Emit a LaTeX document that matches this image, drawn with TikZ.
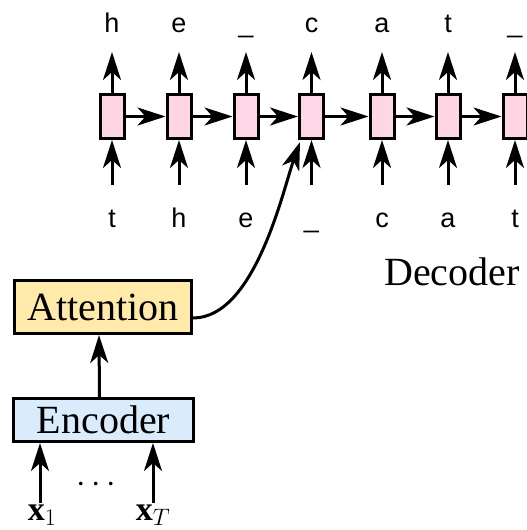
\RequirePackage{fix-cm}
\documentclass[tikz,border=0pt]{standalone}
\usepackage{fontspec}
\setmainfont{Liberation Serif}
\newfontfamily\lblfont{Liberation Sans}
\usetikzlibrary{arrows.meta}
\definecolor{cellpink}{RGB}{255,214,230}
\definecolor{attyellow}{RGB}{255,234,170}
\definecolor{encblue}{RGB}{218,236,252}

\begin{document}
\begin{tikzpicture}[x=1pt,y=-1pt,
  every node/.style={inner sep=0pt},
  conn/.style={line width=3pt, -{Stealth[length=28pt,width=18pt,inset=8pt]}},
  cell/.style={draw, line width=3pt, fill=cellpink, minimum width=24pt, minimum height=44pt},
  box/.style={draw, line width=3pt, minimum width=177pt},
  chr/.style={font=\lblfont\fontsize{27}{32}\selectfont, anchor=base},
  big/.style={font=\fontsize{40}{48}\selectfont},
  mth/.style={font=\fontsize{34}{40}\selectfont}]
\useasboundingbox (0,0) rectangle (527,530);
\clip (0,0) rectangle (527,530);

% decoder cells with their outputs and inputs
\foreach \i/\x/\o/\n in {1/112/h/t, 2/179/e/h, 3/246/\_/e, 4/311.5/c/\_,
                         5/382/a/c, 6/448/t/a, 7/515/\_/t}{
  \node[cell] (c\i) at (\x,116.5) {};
  \node[chr] (o\i) at (\x,32) {\o};
  \node[chr] (n\i) at (\x,227) {\n};
  \coordinate (ot\i) at (\x,52);
  \coordinate (ib\i) at (\x,185);
  \draw[conn] (c\i.north) -- (ot\i);
  \draw[conn] (ib\i) -- (c\i.south);
}
\foreach \i/\j in {1/2,2/3,3/4,4/5,5/6,6/7}
  \draw[conn] (c\i.east) -- (c\j.west);

\node[big, anchor=base] (dec) at (452,285) {Decoder};

% encoder and attention
\node[box, fill=attyellow, minimum height=53pt, big] (att) at (103,307) {Attention};
\node[box, fill=encblue, minimum width=180pt, minimum height=43pt, big] (enc) at (103.5,420) {Encoder};
\draw[conn] ([xshift=-4pt]enc.north) -- ([xshift=-4pt]att.south);

\coordinate (in1) at (40,503);
\coordinate (inT) at (153,503);
\draw[conn] (in1) -- (in1 |- enc.south);
\draw[conn] (inT) -- (inT |- enc.south);
\node[mth, anchor=base] (x1) at (42,520) {$\mathbf{x}_1$};
\node[mth, anchor=base] (xT) at (153,520) {$\mathbf{x}_T$};
\node[mth] (dots) at (96,485) {$\cdots$};

% attention feeds the decoder step
\draw[conn] ([yshift=-11pt]att.east) .. controls (255,318) and (283,190) ..
  ([xshift=2pt,yshift=-2pt]c4.south west);
\end{tikzpicture}
\end{document}
